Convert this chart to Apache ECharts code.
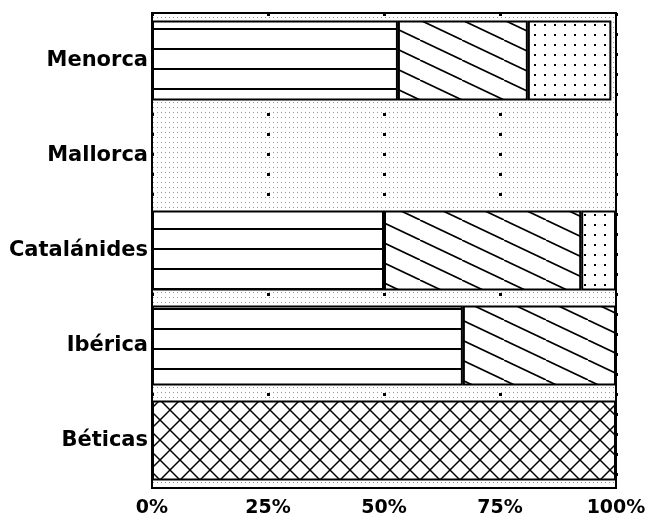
<!DOCTYPE html>
<html>
<head>
<meta charset="utf-8">
<script src="https://cdn.jsdelivr.net/npm/echarts@6/dist/echarts.min.js"></script>
<style>
html,body{margin:0;padding:0;background:#fff;}
#chart{width:653px;height:522px;}
</style>
</head>
<body>
<div id="chart"></div>
<script>
// Categories (bottom to top)
const categories = ['Béticas', 'Ibérica', 'Catalánides', 'Mallorca', 'Menorca'];
// Series values (percent of each category)
const seriesNames = ['Serie 1', 'Serie 2', 'Serie 3', 'Serie 4', 'Serie 5'];
const serie1 = [0, 67, 50, 0, 53];      // horizontal lines
const serie2 = [0, 33, 42.5, 0, 28];    // diagonal hatch
const serie3 = [0, 0, 7.5, 0, 18];      // sparse dots
const serie4 = [0, 0, 0, 100, 1];       // dense fine dots
const serie5 = [100, 0, 0, 0, 0];       // cross-hatch
const xTicks = [0, 25, 50, 75, 100];

function makeCanvas(w, h, draw, bg) {
  const c = document.createElement('canvas');
  c.width = w; c.height = h;
  const ctx = c.getContext('2d');
  if (bg) { ctx.fillStyle = bg; ctx.fillRect(0, 0, w, h); }
  draw(ctx, w, h);
  return c;
}
const hLines = makeCanvas(20, 20, (ctx, w) => {
  ctx.fillStyle = '#000'; ctx.fillRect(0, 8, w, 2);
}, '#fff');
const diag = makeCanvas(42, 20, (ctx, w, h) => {
  ctx.strokeStyle = '#000'; ctx.lineWidth = 1.6;
  for (const dx of [-w, 0, w]) {
    ctx.beginPath(); ctx.moveTo(dx, 0); ctx.lineTo(dx + w, h); ctx.stroke();
  }
}, '#fff');
const sparseDots = makeCanvas(10, 10, (ctx) => {
  ctx.fillStyle = '#000'; ctx.fillRect(4, 4, 2, 2);
}, '#fff');
const denseDots = makeCanvas(4, 5, (ctx) => {
  ctx.fillStyle = '#9a9a9a'; ctx.fillRect(1, 2, 1, 1);
}, null);
const cross = makeCanvas(20, 20, (ctx, w, h) => {
  ctx.strokeStyle = '#000'; ctx.lineWidth = 1.5;
  ctx.beginPath(); ctx.moveTo(0, 0); ctx.lineTo(w, h); ctx.stroke();
  ctx.beginPath(); ctx.moveTo(0, h); ctx.lineTo(w, 0); ctx.stroke();
}, '#fff');

const pat = (img) => ({ image: img, repeat: 'repeat' });
const patterns = [pat(hLines), pat(diag), pat(sparseDots), pat(denseDots), pat(cross)];
const values = [serie1, serie2, serie3, serie4, serie5];

const chart = echarts.init(document.getElementById('chart'), null, { renderer: 'canvas' });
chart.setOption({
  animation: false,
  backgroundColor: '#fff',
  grid: {
    left: 152, right: 37, top: 13, bottom: 34,
    show: true, borderColor: '#000', borderWidth: 2,
    backgroundColor: pat(denseDots)
  },
  xAxis: {
    type: 'value', min: 0, max: 100, interval: 25,
    axisLine: { show: false }, axisTick: { show: false },
    axisLabel: {
      formatter: (v) => xTicks.includes(v) ? v + '%' : '',
      color: '#000', fontFamily: 'DejaVu Sans', fontWeight: 'bold', fontSize: 19, margin: 11
    },
    splitLine: { show: true, lineStyle: { color: '#000', width: 3, type: [3, 17] } }
  },
  yAxis: {
    type: 'category', data: categories,
    axisLine: { show: true, lineStyle: { color: '#000', width: 2 } },
    axisTick: { show: false },
    axisLabel: { color: '#000', fontFamily: 'DejaVu Sans', fontWeight: 'bold', fontSize: 21, margin: 4 }
  },
  series: values.map((v, i) => ({
    name: seriesNames[i], type: 'bar', stack: 'total', data: v,
    barCategoryGap: '16%',
    itemStyle: {
      color: patterns[i],
      borderColor: '#000',
      borderWidth: i === 3 ? 0 : 2
    }
  }))
});
</script>
</body>
</html>
